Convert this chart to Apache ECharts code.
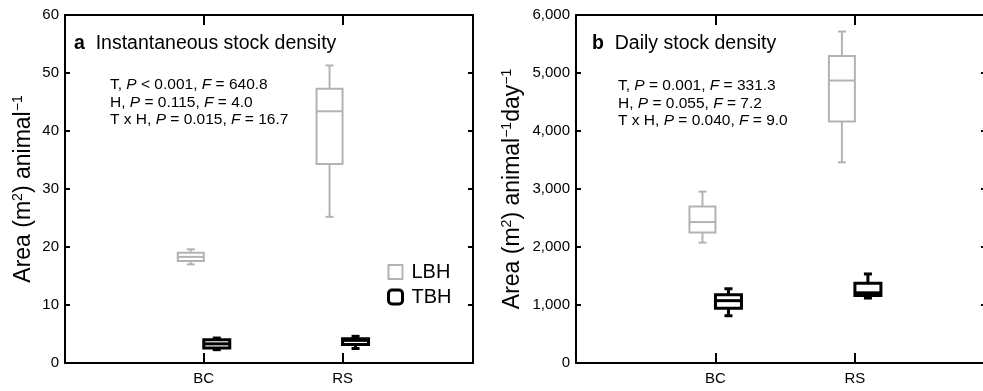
<!DOCTYPE html>
<html>
<head>
<meta charset="utf-8">
<script src="https://cdn.jsdelivr.net/npm/echarts@6/dist/echarts.min.js"></script>
<style>
  html, body { margin: 0; padding: 0; background: #fff; }
  #chart { width: 983px; height: 391px; }
</style>
</head>
<body>
<div id="chart"></div>
<script>
// categories and their x positions
var categories = ['BC', 'RS'];
var positions = [1, 2];

// box values: [min, Q1, median, Q3, max]
var lbhInst = [[17.0, 17.6, 18.3, 19.0, 19.6], [25.2, 34.3, 43.4, 47.3, 51.3]];
var tbhInst = [[2.3, 2.6, 3.3, 4.0, 4.3], [2.5, 3.2, 3.9, 4.2, 4.6]];
var lbhDaily = [[2075, 2250, 2430, 2700, 2955], [3460, 4165, 4870, 5295, 5715]];
var tbhDaily = [[815, 945, 1075, 1175, 1280], [1120, 1165, 1210, 1375, 1535]];

var yTicksInst = [0, 60, 10];
var yTicksDaily = [0, 6000, 1000];

var FONT = '"Liberation Sans", Arial, sans-serif';
var GRAY = '#b3b3b3';
var BLACK = '#000';

var chart = echarts.init(document.getElementById('chart'));

function toData(rows) {
    return rows.map(function (r, i) { return [positions[i]].concat(r); });
}

function boxRenderer(offset, color, lw) {
    return function (params, api) {
        var x = api.value(0);
        var p = [1, 2, 3, 4, 5].map(function (i) { return api.coord([x, api.value(i)]); });
        var cx = p[0][0] + offset;
        var hw = 13, cw = 4;
        var st = { stroke: color, lineWidth: lw, fill: null };
        return {
            type: 'group',
            children: [
                { type: 'line', shape: { x1: cx, y1: p[4][1], x2: cx, y2: p[3][1] }, style: st },
                { type: 'line', shape: { x1: cx, y1: p[1][1], x2: cx, y2: p[0][1] }, style: st },
                { type: 'line', shape: { x1: cx - cw, y1: p[4][1], x2: cx + cw, y2: p[4][1] }, style: st },
                { type: 'line', shape: { x1: cx - cw, y1: p[0][1], x2: cx + cw, y2: p[0][1] }, style: st },
                { type: 'rect', shape: { x: cx - hw, y: p[3][1], width: 2 * hw, height: p[1][1] - p[3][1] },
                  style: { stroke: color, lineWidth: lw, fill: '#fff' } },
                { type: 'line', shape: { x1: cx - hw, y1: p[2][1], x2: cx + hw, y2: p[2][1] }, style: st }
            ]
        };
    };
}

function xAxes(gi) {
    var base = {
        gridIndex: gi, type: 'value', min: 0, max: 2.94, interval: 1,
        splitLine: { show: false },
        axisLine: { show: true, onZero: false, lineStyle: { color: BLACK, width: 2 } },
        axisTick: { inside: true, length: 10, lineStyle: { color: BLACK, width: 2 } }
    };
    return [
        echarts.util.merge({
            position: 'bottom',
            axisLabel: {
                fontSize: 15, fontFamily: FONT, color: BLACK, margin: 8,
                formatter: function (v) { var i = positions.indexOf(v); return i >= 0 ? categories[i] : ''; }
            }
        }, base),
        echarts.util.merge({ position: 'top', axisLabel: { show: false } }, base)
    ];
}

function yAxes(gi, ticks, nameRich, gap) {
    var base = {
        gridIndex: gi, type: 'value', min: ticks[0], max: ticks[1], interval: ticks[2],
        splitLine: { show: false },
        axisLine: { show: true, onZero: false, lineStyle: { color: BLACK, width: 2 } },
        axisTick: { inside: true, length: 5, lineStyle: { color: BLACK, width: 2 } }
    };
    var sup = { fontSize: 14, fontFamily: FONT, color: BLACK, verticalAlign: 'top', lineHeight: 26 };
    return [
        echarts.util.merge({
            position: 'left',
            name: nameRich, nameLocation: 'middle', nameGap: gap, nameRotate: 90,
            nameTextStyle: {
                fontSize: 23, fontFamily: FONT, color: BLACK, lineHeight: 26,
                rich: { n: { fontSize: 23, fontFamily: FONT, color: BLACK, lineHeight: 26 }, s: sup }
            },
            axisLabel: {
                fontSize: 15, fontFamily: FONT, color: BLACK, margin: 6,
                formatter: function (v) { return v.toLocaleString('en-US'); }
            }
        }, base),
        echarts.util.merge({ position: 'right', axisLabel: { show: false } }, base)
    ];
}

var statStyle = {
    fontSize: 15.5, fontFamily: FONT, fill: BLACK, lineHeight: 17.5,
    rich: {
        i: { fontSize: 15.5, fontFamily: FONT, fontStyle: 'italic', lineHeight: 17.5 }
    }
};

function statText(x, y, lines) {
    return { type: 'text', left: x, top: y, silent: true,
             style: echarts.util.extend({ text: lines.join('\n') }, statStyle) };
}

function panelTitle(x, letter, text) {
    return { type: 'text', left: x, top: 34, silent: true,
             style: { text: '{b|' + letter + '}  ' + text, fontSize: 19.5, fontFamily: FONT, fill: BLACK,
                      rich: { b: { fontSize: 19.5, fontFamily: FONT, fontWeight: 'bold' } } } };
}

var option = {
    animation: false,
    backgroundColor: '#fff',
    grid: [
        { left: 65, top: 15, width: 408, height: 348, outerBoundsMode: 'none', containLabel: false },
        { left: 576, top: 15, width: 410, height: 348, outerBoundsMode: 'none', containLabel: false }
    ],
    xAxis: xAxes(0).concat(xAxes(1)),
    yAxis: yAxes(0, yTicksInst, '{n|Area (m}{s|2}{n|) animal}{s|−1}', 28)
        .concat(yAxes(1, yTicksDaily, '{n|Area (m}{s|2}{n|) animal}{s|−1}{n|day}{s|−1}', 50)),
    legend: {
        orient: 'vertical', left: 387, top: 262, itemWidth: 14, itemHeight: 14, itemGap: 5,
        padding: 0, selectedMode: false,
        textStyle: { fontSize: 20, fontFamily: FONT, color: BLACK, padding: [0, 0, 0, 4] },
        data: [
            { name: 'LBH', icon: 'rect', itemStyle: { color: '#fff', borderColor: GRAY, borderWidth: 2 } },
            { name: 'TBH', icon: 'roundRect', itemStyle: { color: '#fff', borderColor: BLACK, borderWidth: 3 } }
        ]
    },
    graphic: [
        panelTitle(74, 'a', 'Instantaneous stock density'),
        panelTitle(592, 'b', 'Daily stock density'),
        statText(110, 76, ['T, {i|P} < 0.001, {i|F} = 640.8', 'H, {i|P} = 0.115, {i|F} = 4.0', 'T x H, {i|P} = 0.015, {i|F} = 16.7']),
        statText(618, 77, ['T, {i|P} = 0.001, {i|F} = 331.3', 'H, {i|P} = 0.055, {i|F} = 7.2', 'T x H, {i|P} = 0.040, {i|F} = 9.0'])
    ],
    series: [
        { name: 'LBH', type: 'custom', xAxisIndex: 0, yAxisIndex: 0, silent: true,
          itemStyle: { color: GRAY }, encode: { x: 0, y: [1, 2, 3, 4, 5] },
          renderItem: boxRenderer(-13, GRAY, 2), data: toData(lbhInst) },
        { name: 'TBH', type: 'custom', xAxisIndex: 0, yAxisIndex: 0, silent: true,
          itemStyle: { color: BLACK }, encode: { x: 0, y: [1, 2, 3, 4, 5] },
          renderItem: boxRenderer(13, BLACK, 3), data: toData(tbhInst) },
        { name: 'LBH', type: 'custom', xAxisIndex: 2, yAxisIndex: 2, silent: true,
          itemStyle: { color: GRAY }, encode: { x: 0, y: [1, 2, 3, 4, 5] },
          renderItem: boxRenderer(-13, GRAY, 2), data: toData(lbhDaily) },
        { name: 'TBH', type: 'custom', xAxisIndex: 2, yAxisIndex: 2, silent: true,
          itemStyle: { color: BLACK }, encode: { x: 0, y: [1, 2, 3, 4, 5] },
          renderItem: boxRenderer(13, BLACK, 3), data: toData(tbhDaily) }
    ]
};

chart.setOption(option);
</script>
</body>
</html>
